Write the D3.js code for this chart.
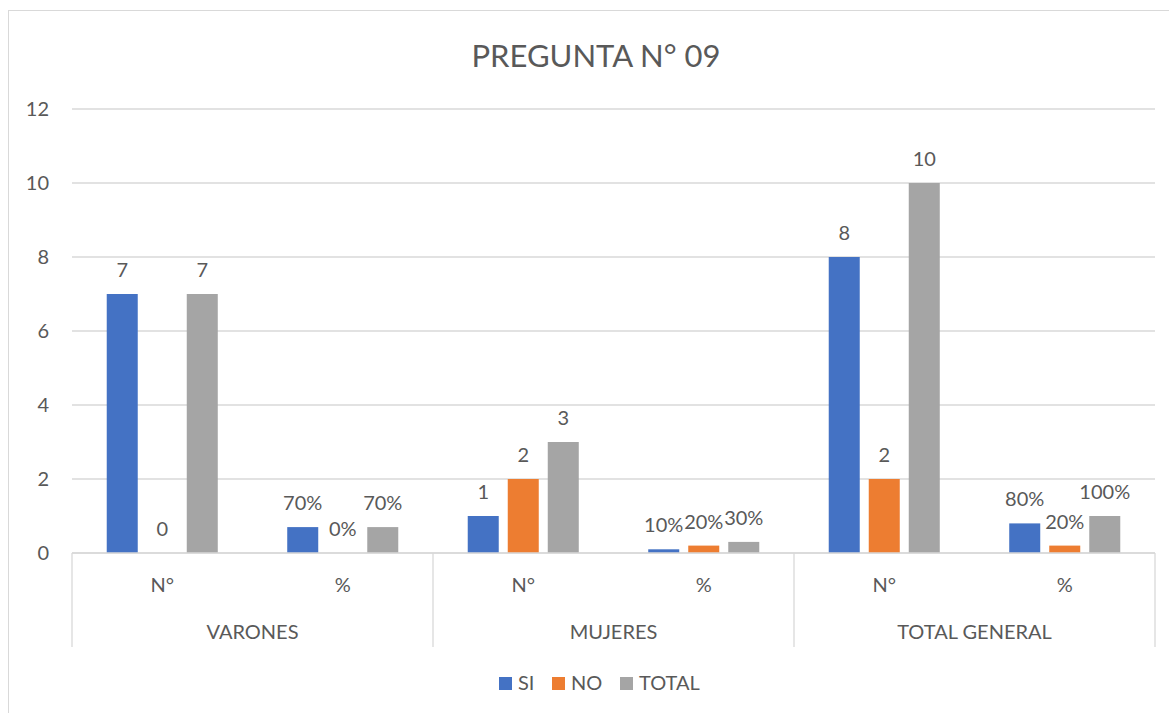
<!DOCTYPE html>
<html>
<head>
<meta charset="utf-8">
<script src="https://cdn.jsdelivr.net/npm/d3@7"></script>
<style>
  body { margin: 0; background: #fff; }
  text { font-family: Lato, 'Open Sans', sans-serif; fill: #595959; }
</style>
</head>
<body>
<script>
var groups = ['VARONES', 'MUJERES', 'TOTAL GENERAL'];
var subs = ['N°', '%'];
var series = ['SI', 'NO', 'TOTAL'];
var colors = ['#4472C4', '#ED7D31', '#A5A5A5'];

// values per series, one per (group, sub) column
var si    = [7, 0.7, 1, 0.1, 8, 0.8];
var no    = [0, 0,   2, 0.2, 2, 0.2];
var total = [7, 0.7, 3, 0.3, 10, 1];
var labels = [
  ['7', '70%', '1', '10%', '8', '80%'],
  ['0', '0%', '2', '20%', '2', '20%'],
  ['7', '70%', '3', '30%', '10', '100%']
];
var yTicks = [0, 2, 4, 6, 8, 10, 12];

var width = 1169, height = 713;
var plot = {left: 72, right: 1155, top: 109, bottom: 553};

var svg = d3.select('body').append('svg')
            .attr('width', width)
            .attr('height', height);

// chart frame
svg.append('rect')
   .attr('x', 8.5).attr('y', 10.5)
   .attr('width', width + 10).attr('height', height + 10)
   .attr('fill', 'none')
   .attr('stroke', '#d9d9d9');

var cols = [];
groups.forEach(g => subs.forEach(s => cols.push(g + '|' + s)));

var x0 = d3.scaleBand().domain(cols)
           .range([plot.left, plot.right])
           .paddingInner(0.335).paddingOuter(0.1675);
var x1 = d3.scaleBand().domain(series)
           .range([0, x0.bandwidth()])
           .paddingInner(0.225).paddingOuter(0.1125);
var y = d3.scaleLinear().domain([0, 12]).range([plot.bottom, plot.top]);

// title
svg.append('text')
   .attr('x', 596).attr('y', 67)
   .attr('text-anchor', 'middle')
   .style('font-size', '31px')
   .text('PREGUNTA N° 09');

// gridlines + y labels
var yAxis = svg.append('g').attr('class', 'y-axis');
yAxis.selectAll('line').data(yTicks).enter().append('line')
     .attr('x1', plot.left).attr('x2', plot.right)
     .attr('y1', d => y(d)).attr('y2', d => y(d))
     .attr('stroke', '#d9d9d9').attr('stroke-width', 1.3);
yAxis.selectAll('text').data(yTicks).enter().append('text')
     .attr('x', 49).attr('y', d => y(d))
     .attr('dy', '0.35em')
     .attr('text-anchor', 'end')
     .style('font-size', '20px')
     .text(d => d);

// bars
var data = [si, no, total];
var barG = svg.append('g').attr('class', 'bars');
series.forEach(function(s, i) {
  var vals = data[i].map((v, j) => ({col: cols[j], v: v, label: labels[i][j]}));
  barG.selectAll('rect.s' + i).data(vals).enter().append('rect')
      .attr('class', 's' + i)
      .attr('x', d => x0(d.col) + x1(s))
      .attr('width', x1.bandwidth())
      .attr('y', d => y(d.v))
      .attr('height', d => y(0) - y(d.v))
      .attr('fill', colors[i]);
  barG.selectAll('text.s' + i).data(vals).enter().append('text')
      .attr('class', 's' + i)
      .attr('x', d => x0(d.col) + x1(s) + x1.bandwidth() / 2)
      .attr('y', d => y(d.v) - 17)
      .attr('text-anchor', 'middle')
      .style('font-size', '20px')
      .text(d => d.label);
});

// category axis (two levels)
var axisColor = '#d9d9d9';
var groupW = (plot.right - plot.left) / groups.length;
svg.append('line')
   .attr('x1', plot.left).attr('x2', plot.right)
   .attr('y1', plot.bottom).attr('y2', plot.bottom)
   .attr('stroke', axisColor).attr('stroke-width', 1.3);
d3.range(groups.length + 1).forEach(function(i) {
  svg.append('line')
     .attr('x1', plot.left + i * groupW).attr('x2', plot.left + i * groupW)
     .attr('y1', plot.bottom).attr('y2', 647)
     .attr('stroke', axisColor).attr('stroke-width', 1.3);
});
svg.selectAll('text.sub').data(cols).enter().append('text')
   .attr('class', 'sub')
   .attr('x', d => x0(d) + x0.bandwidth() / 2)
   .attr('y', 592)
   .attr('text-anchor', 'middle')
   .style('font-size', '20px')
   .text(d => d.split('|')[1]);
svg.selectAll('text.grp').data(groups).enter().append('text')
   .attr('class', 'grp')
   .attr('x', (d, i) => plot.left + (i + 0.5) * groupW)
   .attr('y', 639)
   .attr('text-anchor', 'middle')
   .style('font-size', '20px')
   .text(d => d);

// legend
var legendX = [499, 552, 620];
var legend = svg.append('g').attr('class', 'legend');
series.forEach(function(s, i) {
  legend.append('rect')
        .attr('x', legendX[i]).attr('y', 677)
        .attr('width', 13).attr('height', 13)
        .attr('fill', colors[i]);
  legend.append('text')
        .attr('x', legendX[i] + 19).attr('y', 690)
        .style('font-size', '20px')
        .text(s);
});
</script>
</body>
</html>
